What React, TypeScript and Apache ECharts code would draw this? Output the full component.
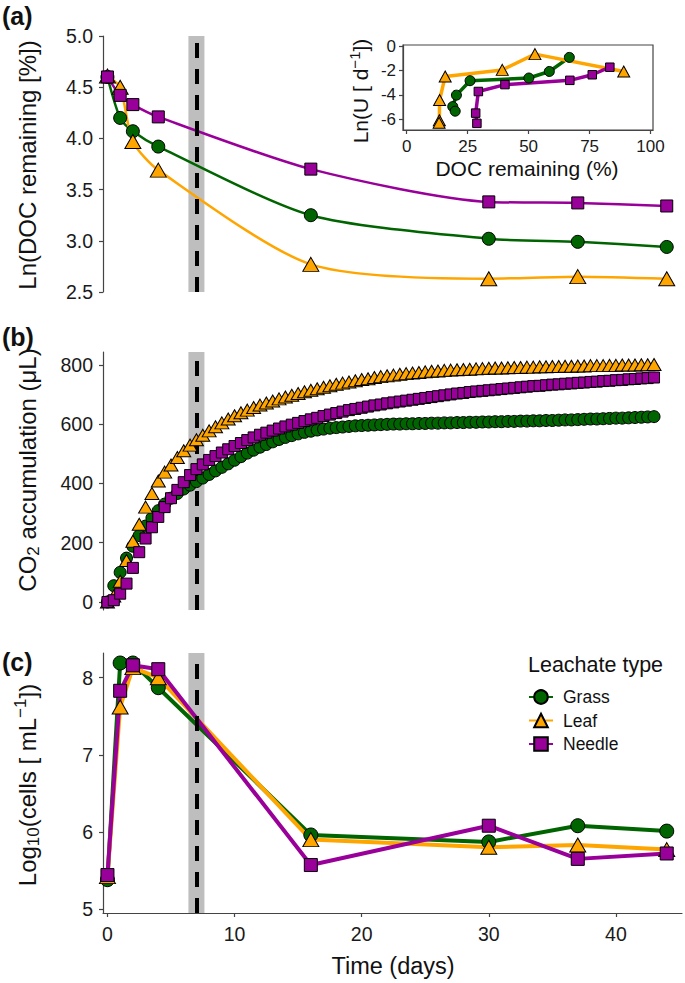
import React, { useEffect, useRef } from "react";
import * as echarts from "echarts";

// ---------- DATA ----------
const docTime = [0, 1, 2, 4, 16, 30, 37, 44];
const docGrass = [4.6, 4.2, 4.07, 3.92, 3.25, 3.02, 2.99, 2.94];
const docLeaf = [4.61, 4.5, 3.97, 3.69, 2.77, 2.63, 2.65, 2.63];
const docNeedle = [4.6, 4.42, 4.33, 4.21, 3.7, 3.38, 3.37, 3.34];

const insetGrassDoc = [66.7, 58.5, 50.1, 26.0, 20.4, 18.9, 19.9];
const insetGrassLnU = [-0.92, -2.08, -2.62, -2.84, -4.03, -4.97, -5.35];
const insetLeafDoc = [89.0, 52.6, 39.2, 15.8, 13.5, 13.4, 13.3];
const insetLeafLnU = [-2.08, -0.65, -1.95, -2.49, -4.43, -6.1, -6.3];
const insetNeedleDoc = [83.3, 76.1, 66.9, 40.3, 29.4, 28.3, 28.8];
const insetNeedleLnU = [-1.73, -2.35, -2.81, -3.16, -3.73, -5.51, -6.35];

const co2Time = [
  0, 0.5, 1, 1.5, 2, 2.5, 3, 3.5, 4, 4.5, 5, 5.5, 6, 6.5, 7, 7.5, 8, 8.5, 9, 9.5,
  10, 10.5, 11, 11.5, 12, 12.5, 13, 13.5, 14, 14.5, 15, 15.5, 16, 16.5, 17, 17.5, 18, 18.5, 19, 19.5,
  20, 20.5, 21, 21.5, 22, 22.5, 23, 23.5, 24, 24.5, 25, 25.5, 26, 26.5, 27, 27.5, 28, 28.5, 29, 29.5,
  30, 30.5, 31, 31.5, 32, 32.5, 33, 33.5, 34, 34.5, 35, 35.5, 36, 36.5, 37, 37.5, 38, 38.5, 39, 39.5,
  40, 40.5, 41, 41.5, 42, 42.5, 43,
];
const co2Grass = [
  0, 55, 100, 148, 188, 224, 256, 283, 308, 330,
  350, 366, 381, 394, 406, 418, 430, 442, 454, 466,
  478, 490, 502, 512, 522, 531, 540, 548, 555, 561,
  567, 572, 576, 580, 583, 586, 588, 590, 592, 594,
  595, 596, 597, 598, 599, 600, 600, 601, 601, 602,
  602, 603, 603, 604, 604, 605, 605, 606, 606, 607,
  607, 608, 608, 609, 609, 610, 610, 611, 611, 612,
  612, 613, 614, 614, 615, 616, 617, 617, 618, 619,
  620, 620, 621, 622, 623, 624, 625,
];
const co2Leaf = [
  0, 20, 70, 140, 205, 262, 320, 366, 408, 438,
  462, 487, 510, 529, 547, 562, 577, 591, 604, 617,
  628, 638, 647, 656, 664, 671, 678, 685, 691, 697,
  703, 709, 714, 719, 724, 729, 734, 738, 742, 746,
  750, 753, 757, 760, 763, 765, 768, 770, 772, 774,
  776, 778, 779, 781, 782, 783, 784, 785, 786, 787,
  788, 789, 789, 790, 791, 791, 792, 792, 793, 793,
  794, 794, 795, 795, 796, 796, 797, 797, 797, 798,
  798, 799, 799, 799, 800, 800, 801,
];
const co2Needle = [
  0, 6, 28, 62, 115, 168, 214, 252, 287, 320,
  350, 378, 404, 428, 448, 464, 479, 492, 504, 515,
  526, 536, 546, 555, 564, 571, 578, 585, 592, 598,
  604, 610, 616, 621, 627, 632, 637, 642, 647, 651,
  655, 659, 663, 666, 670, 673, 676, 679, 682, 685,
  688, 691, 694, 697, 700, 703, 705, 708, 710, 712,
  714, 716, 718, 720, 722, 724, 726, 728, 729, 731,
  733, 734, 736, 737, 739, 740, 742, 743, 745, 746,
  748, 749, 751, 752, 754, 755, 757,
];

const cellTime = [0, 1, 2, 4, 16, 30, 37, 44];
const cellGrass = [5.38, 8.19, 8.19, 7.87, 5.96, 5.87, 6.08, 6.01];
const cellLeaf = [5.42, 7.62, 8.13, 8.0, 5.9, 5.8, 5.83, 5.77];
const cellNeedle = [5.44, 7.83, 8.16, 8.11, 5.57, 6.08, 5.65, 5.72];

const typeNames = ["Grass", "Leaf", "Needle"];
const timeTicks = [0, 10, 20, 30, 40];
const docTicks = [2.5, 3.0, 3.5, 4.0, 4.5, 5.0];
const co2Ticks = [0, 200, 400, 600, 800];
const cellTicks = [5, 6, 7, 8];
const insetXTicks = [0, 25, 50, 75, 100];
const insetYTicks = [-6, -4, -2, 0];
const manipulationDay = 7;

// ---------- STYLE ----------
const FONT = '"Liberation Sans", Arial, Helvetica, sans-serif';
const GREEN = "#006400";
const ORANGE = "#FFA500";
const PURPLE = "#990099";
const AXIS = "#444444";
const colors = [GREEN, ORANGE, PURPLE];
const symbols = ["circle", "triangle", "rect"];

const pairs = (xs: number[], ys: number[]) => xs.map((x, i) => [x, ys[i]]);

function yAxisCfg(grid: number, min: number, max: number, ticks: number[], fmt: (v: number) => string, fontSize: number, margin: number) {
  return {
    type: "value",
    gridIndex: grid,
    min,
    max,
    axisLine: { show: true, onZero: false, lineStyle: { color: AXIS, width: 1.2 } },
    axisTick: { show: true, length: 4, customValues: ticks, lineStyle: { color: AXIS, width: 1.2 } },
    axisLabel: { show: true, customValues: ticks, formatter: fmt, fontSize, color: "#1a1a1a", fontFamily: FONT, margin },
    splitLine: { show: false },
  };
}

function xAxisCfg(grid: number, min: number, max: number, ticks: number[], fontSize: number, margin: number) {
  return {
    type: "value",
    gridIndex: grid,
    min,
    max,
    axisLine: { show: true, onZero: false, lineStyle: { color: AXIS, width: 1.2 } },
    axisTick: { show: true, length: 4, customValues: ticks, lineStyle: { color: AXIS, width: 1.2 } },
    axisLabel: { show: true, customValues: ticks, fontSize, color: "#1a1a1a", fontFamily: FONT, margin },
    splitLine: { show: false },
  };
}

function markerSizes(kind: string) {
  if (kind === "a") return [13, [16, 14], 12];
  if (kind === "b") return [12, [14, 12], 11];
  if (kind === "c") return [14, [16, 14], 13];
  return [10, [12, 11], 8.5];
}

function buildOption() {
  const series: any[] = [];

  // Panel (c) lines first: they drive the legend icons
  const cellSets = [cellGrass, cellLeaf, cellNeedle];
  const cSizes = markerSizes("c");
  typeNames.forEach((name, i) => {
    series.push({
      type: "line",
      name,
      xAxisIndex: 3,
      yAxisIndex: 3,
      data: pairs(cellTime, cellSets[i]),
      symbol: symbols[i],
      symbolSize: cSizes[i],
      showSymbol: false,
      lineStyle: { color: colors[i], width: 4 },
      itemStyle: { color: colors[i], borderColor: "#000", borderWidth: 1 },
      z: 3,
      silent: true,
    });
  });
  typeNames.forEach((name, i) => {
    series.push({
      type: "scatter",
      name: name + " cells",
      xAxisIndex: 3,
      yAxisIndex: 3,
      data: pairs(cellTime, cellSets[i]),
      symbol: symbols[i],
      symbolSize: cSizes[i],
      itemStyle: { color: colors[i], borderColor: "#000", borderWidth: 1, opacity: 1 },
      z: 5,
      silent: true,
    });
  });

  // Panel (a)
  const docSets = [docGrass, docLeaf, docNeedle];
  const aSizes = markerSizes("a");
  typeNames.forEach((name, i) => {
    series.push({
      type: "line",
      name: name + " doc line",
      xAxisIndex: 0,
      yAxisIndex: 0,
      data: pairs(docTime, docSets[i]),
      smooth: 0.25,
      symbol: "none",
      lineStyle: { color: colors[i], width: 2.5 },
      z: 3,
      silent: true,
    });
  });
  typeNames.forEach((name, i) => {
    series.push({
      type: "scatter",
      name: name + " doc",
      xAxisIndex: 0,
      yAxisIndex: 0,
      data: pairs(docTime, docSets[i]),
      symbol: symbols[i],
      symbolSize: aSizes[i],
      itemStyle: { color: colors[i], borderColor: "#000", borderWidth: 1, opacity: 1 },
      z: 5,
      silent: true,
    });
  });

  // Inset
  const insetX = [insetGrassDoc, insetLeafDoc, insetNeedleDoc];
  const insetY = [insetGrassLnU, insetLeafLnU, insetNeedleLnU];
  const iSizes = markerSizes("i");
  typeNames.forEach((name, i) => {
    series.push({
      type: "line",
      name: name + " inset line",
      xAxisIndex: 1,
      yAxisIndex: 1,
      data: pairs(insetX[i], insetY[i]),
      symbol: "none",
      lineStyle: { color: colors[i], width: 3.5 },
      z: 3,
      silent: true,
    });
  });
  typeNames.forEach((name, i) => {
    series.push({
      type: "scatter",
      name: name + " inset",
      xAxisIndex: 1,
      yAxisIndex: 1,
      data: pairs(insetX[i], insetY[i]),
      symbol: symbols[i],
      symbolSize: iSizes[i],
      itemStyle: { color: colors[i], borderColor: "#000", borderWidth: 1, opacity: 1 },
      z: 5,
      silent: true,
    });
  });

  // Panel (b)
  const co2Sets = [co2Grass, co2Leaf, co2Needle];
  const bSizes = markerSizes("b");
  typeNames.forEach((name, i) => {
    series.push({
      type: "scatter",
      name: name + " co2",
      xAxisIndex: 2,
      yAxisIndex: 2,
      data: pairs(co2Time, co2Sets[i]),
      symbol: symbols[i],
      symbolSize: bSizes[i],
      itemStyle: { color: colors[i], borderColor: "#000", borderWidth: 1, opacity: 1 },
      z: 5,
      silent: true,
    });
  });

  // Manipulation marker (grey band + dashed line) in panels a, b, c
  [0, 2, 3].forEach((g) => {
    series.push({
      type: "scatter",
      name: "band" + g,
      xAxisIndex: g,
      yAxisIndex: g,
      data: [],
      z: 1,
      silent: true,
      markArea: {
        silent: true,
        itemStyle: { color: "#BEBEBE" },
        data: [[{ xAxis: manipulationDay - 0.63 }, { xAxis: manipulationDay + 0.63 }]],
      },
    });
    series.push({
      type: "scatter",
      name: "dash" + g,
      xAxisIndex: g,
      yAxisIndex: g,
      data: [],
      z: 20,
      silent: true,
      markLine: {
        silent: true,
        symbol: "none",
        label: { show: false },
        lineStyle: { color: "#000", width: 4, type: [15, 11] },
        data: [{ xAxis: manipulationDay }],
      },
    });
  });

  const textStyle = (text: string, fontSize: number, extra: any = {}) => ({
    text,
    fontSize,
    fontFamily: FONT,
    fill: "#111",
    align: "center",
    textAlign: "center",
    verticalAlign: "middle",
    textVerticalAlign: "middle",
    ...extra,
  });

  const graphic = [
    { type: "text", x: 2, y: 16, style: textStyle("(a)", 25, { fontWeight: "bold", align: "left", textAlign: "left" }) },
    { type: "text", x: 2, y: 337, style: textStyle("(b)", 25, { fontWeight: "bold", align: "left", textAlign: "left" }) },
    { type: "text", x: 2, y: 662, style: textStyle("(c)", 25, { fontWeight: "bold", align: "left", textAlign: "left" }) },
    { type: "text", x: 27, y: 165, rotation: Math.PI / 2, style: textStyle("Ln(DOC remaining [%])", 24) },
    {
      type: "text",
      x: 27,
      y: 470,
      rotation: Math.PI / 2,
      style: textStyle("{n|CO}{sub|2}{n| accumulation (μL)}", 24, {
        rich: {
          n: { fontSize: 24, fontFamily: FONT, fill: "#111", lineHeight: 30 },
          sub: { fontSize: 17, fontFamily: FONT, fill: "#111", lineHeight: 17, verticalAlign: "bottom" },
        },
      }),
    },
    {
      type: "text",
      x: 27,
      y: 785,
      rotation: Math.PI / 2,
      style: textStyle("{n|Log}{sub|10}{n|(cells [ mL}{sup|−1}{n|])}", 24, {
        rich: {
          n: { fontSize: 24, fontFamily: FONT, fill: "#111", lineHeight: 30 },
          sub: { fontSize: 17, fontFamily: FONT, fill: "#111", lineHeight: 17, verticalAlign: "bottom" },
          sup: { fontSize: 17, fontFamily: FONT, fill: "#111", lineHeight: 17, verticalAlign: "top" },
        },
      }),
    },
    { type: "text", x: 393, y: 966, style: textStyle("Time (days)", 23.5) },
    {
      type: "text",
      x: 360,
      y: 91,
      rotation: Math.PI / 2,
      style: textStyle("{n|Ln(U [ d}{sup|−1}{n|])}", 21, {
        rich: {
          n: { fontSize: 21, fontFamily: FONT, fill: "#111", lineHeight: 26 },
          sup: { fontSize: 15, fontFamily: FONT, fill: "#111", lineHeight: 15, verticalAlign: "top" },
        },
      }),
    },
    { type: "text", x: 527, y: 168, style: textStyle("DOC remaining (%)", 21) },
    { type: "text", x: 528, y: 665, style: textStyle("Leachate type", 21.5, { align: "left", textAlign: "left" }) },
  ];

  return {
    animation: false,
    backgroundColor: "#ffffff",
    textStyle: { fontFamily: FONT },
    grid: [
      { left: 103, top: 36, width: 579, height: 256 },
      { left: 403, top: 45, width: 250, height: 85, show: true, borderColor: AXIS, borderWidth: 1.2, backgroundColor: "transparent" },
      { left: 103, top: 352, width: 579, height: 258 },
      { left: 103, top: 653, width: 579, height: 260 },
    ],
    xAxis: [
      { type: "value", gridIndex: 0, min: -0.35, max: 45.2, show: false },
      xAxisCfg(1, -1.5, 101, insetXTicks, 17, 8),
      { type: "value", gridIndex: 2, min: -0.35, max: 45.2, show: false },
      xAxisCfg(3, -0.35, 45.2, timeTicks, 19.5, 11),
    ],
    yAxis: [
      yAxisCfg(0, 2.5, 5.0, docTicks, (v: number) => v.toFixed(1), 19.5, 10),
      yAxisCfg(1, -6.9, 0.1, insetYTicks, (v: number) => String(v), 17, 7),
      yAxisCfg(2, -27, 843, co2Ticks, (v: number) => String(v), 19.5, 10),
      yAxisCfg(3, 4.948, 8.32, cellTicks, (v: number) => String(v), 19.5, 10),
    ],
    legend: {
      data: typeNames,
      orient: "vertical",
      left: 528,
      top: 688,
      padding: 0,
      itemWidth: 24,
      itemHeight: 17,
      itemGap: 5.5,
      selectedMode: false,
      textStyle: { fontSize: 17.5, color: "#111", fontFamily: FONT, padding: [0, 0, 0, 5] },
    },
    graphic,
    series,
  };
}

export default function App() {
  const ref = useRef<HTMLDivElement>(null);
  useEffect(() => {
    document.body.style.margin = "0";
    const chart = echarts.init(ref.current as HTMLDivElement, null, { renderer: "svg" });
    chart.setOption(buildOption() as any);
    return () => chart.dispose();
  }, []);
  return (
    <div
      ref={ref}
      style={{ position: "absolute", left: 0, top: 0, width: 685, height: 983, background: "#fff" }}
    />
  );
}
